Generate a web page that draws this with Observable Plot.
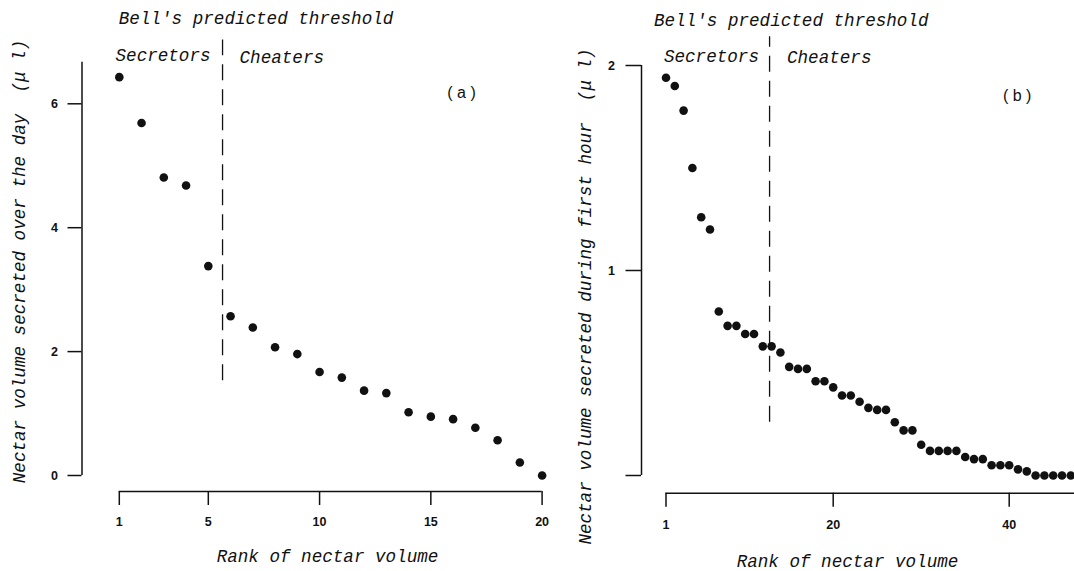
<!DOCTYPE html>
<html>
<head>
<meta charset="utf-8">
<script src="https://cdn.jsdelivr.net/npm/d3@7"></script>
<script src="https://cdn.jsdelivr.net/npm/@observablehq/plot@0.6"></script>
<style>
  html, body { margin: 0; padding: 0; background: #fff; }
  #figure { position: relative; width: 1074px; height: 571px; overflow: hidden; background: #fff; }
  #figure > svg { position: absolute; top: 0; max-width: none; }
  #figure text { white-space: pre; }
  #figure g[aria-label$="tick label"] text {
    font-weight: 700;
    font-size: 12.5px;
    font-family: 'Liberation Sans', Arial, Helvetica, sans-serif;
  }
</style>
</head>
<body>
<div id="figure"></div>
<script>
// (a) nectar volume secreted over the day (µl), plants ranked by volume
const dayVolume = [6.43, 5.69, 4.81, 4.68, 3.38, 2.57, 2.39, 2.07, 1.96, 1.67,
                   1.58, 1.37, 1.33, 1.02, 0.95, 0.91, 0.77, 0.57, 0.21, 0.00];

// (b) nectar volume secreted during the first hour (µl), plants ranked by volume
const hourVolume = [1.94, 1.90, 1.78, 1.50, 1.26, 1.20, 0.80, 0.73, 0.73, 0.69,
                    0.69, 0.63, 0.63, 0.60, 0.53, 0.52, 0.52, 0.46, 0.46, 0.43,
                    0.39, 0.39, 0.36, 0.33, 0.32, 0.32, 0.26, 0.22, 0.22, 0.15,
                    0.12, 0.12, 0.12, 0.12, 0.09, 0.08, 0.08, 0.05, 0.05, 0.05,
                    0.03, 0.02, 0.00, 0.00, 0.00, 0.00, 0.00];

// Bell's predicted threshold, on the rank axis
const thresholdA = 5.64;
const thresholdB = 12.77;

// tick values
const xTicksA = [1, 5, 10, 15, 20];
const yTicksA = [0, 2, 4, 6];
const xTicksB = [1, 20, 40];
const yTicksB = [0, 1, 2];          // the 0 tick carries no label
const unlabelledB = [0];

// texts
const xTitle = "Rank of nectar volume";
const yTitleA = "Nectar volume secreted over the day  (μ l)";
const yTitleB = "Nectar volume secreted during first hour  (μ l)";
const thresholdTitle = "Bell's predicted threshold";
const leftGroup = "Secretors";
const rightGroup = "Cheaters";
const tagA = "( a )";
const tagB = "( b )";

const ink = "#111";
const H = 571;
const monoFont = "'Liberation Mono', 'Courier New', 'DejaVu Sans Mono', monospace";
const sansFont = "'Liberation Sans', Arial, Helvetica, sans-serif";

function panel(cfg) {
  const rows = cfg.values.map((v, i) => ({rank: i + 1, volume: v}));
  const mono = {fontFamily: monoFont, fontStyle: "italic", fontSize: 17.6, fill: ink, lineAnchor: "middle"};
  const mTop = cfg.axisTop, mLeft = cfg.axisLeft;
  return Plot.plot({
    width: cfg.width,
    height: H,
    marginLeft: mLeft,
    marginTop: mTop,
    marginRight: 0,
    marginBottom: H - cfg.axisBottom,
    x: {type: "linear", domain: cfg.xDomain, range: cfg.xRange, axis: null},
    y: {type: "linear", domain: cfg.yDomain, range: cfg.yRange, axis: null},
    style: {background: "transparent", color: ink, fontFamily: monoFont},
    marks: [
      // detached axis lines
      Plot.ruleX([cfg.xDomain[0]], {y1: cfg.yDomain[0], y2: cfg.yAxisTop, dx: mLeft - cfg.xRange[0], stroke: ink, strokeWidth: 1.5}),
      Plot.ruleY([cfg.yDomain[0]], {x1: cfg.xDomain[0], x2: cfg.xAxisEnd, dy: cfg.axisBottom - cfg.yRange[0], stroke: ink, strokeWidth: 1.5}),
      Plot.axisY(cfg.yTicks, {
        anchor: "left", tickSize: cfg.yTickSize, tickPadding: cfg.yTickPadding, strokeWidth: 1.5,
        tickFormat: d => cfg.unlabelled.includes(d) ? "" : String(d),
        fontSize: 12.5, fontWeight: "bold", fontFamily: sansFont, label: null
      }),
      Plot.axisX(cfg.xTicks, {
        anchor: "bottom", tickSize: 14, tickPadding: cfg.xTickPadding, strokeWidth: 1.5,
        tickFormat: d => String(d),
        fontSize: 12.5, fontWeight: "bold", fontFamily: sansFont, label: null
      }),
      // threshold
      Plot.ruleX([cfg.threshold], {y1: cfg.dash[0], y2: cfg.dash[1], stroke: ink, strokeWidth: 1.3, strokeDasharray: "16,9"}),
      // plants
      Plot.dot(rows, {x: "rank", y: "volume", r: 4.3, fill: ink, stroke: "none"}),
      // annotations around the threshold
      Plot.text([thresholdTitle], {text: d => d, x: cfg.threshold, y: cfg.bell.y, dx: cfg.bell.dx, textAnchor: "middle", ...mono}),
      Plot.text([leftGroup], {text: d => d, x: cfg.threshold, y: cfg.secretors.y, dx: cfg.secretors.dx, textAnchor: "end", ...mono}),
      Plot.text([rightGroup], {text: d => d, x: cfg.threshold, y: cfg.cheaters.y, dx: cfg.cheaters.dx, textAnchor: "start", ...mono}),
      Plot.text([cfg.tag], {text: d => d, x: cfg.tagAt[0], y: cfg.tagAt[1], fontFamily: sansFont, fontSize: 16, fill: ink, textAnchor: "middle", lineAnchor: "middle"}),
      // axis titles
      Plot.text([xTitle], {text: d => d, frameAnchor: "top-left", dx: cfg.xTitleAt[0] - mLeft, dy: cfg.xTitleAt[1] - mTop, textAnchor: "middle", ...mono}),
      Plot.text([cfg.yTitle], {text: d => d, frameAnchor: "top-left", dx: cfg.yTitleAt[0] - mLeft, dy: cfg.yTitleAt[1] - mTop, rotate: -90, textAnchor: "middle", ...mono})
    ]
  });
}

const figure = document.getElementById("figure");

const svgA = panel({
  values: dayVolume, threshold: thresholdA, tag: tagA, yTitle: yTitleA,
  xTicks: xTicksA, yTicks: yTicksA, unlabelled: [],
  width: 560,
  xDomain: [1, 20], xRange: [118.8, 541.6],
  yDomain: [0, 6], yRange: [475, 103.3],
  axisLeft: 81.5, axisTop: 61.7, axisBottom: 491,
  yAxisTop: 6.67, xAxisEnd: 20,
  yTickSize: 14, yTickPadding: 10, xTickPadding: 12,
  dash: [1.53, 7.03],
  bell: {y: 7.38, dx: 33.5},
  secretors: {y: 6.78, dx: -12},
  cheaters: {y: 6.75, dx: 17},
  tagAt: [16.38, 6.17],
  xTitleAt: [327, 556],
  yTitleAt: [19, 261]
});
svgA.style.left = "0px";
figure.appendChild(svgA);

const svgB = panel({
  values: hourVolume, threshold: thresholdB, tag: tagB, yTitle: yTitleB,
  xTicks: xTicksB, yTicks: yTicksB, unlabelled: unlabelledB,
  width: 514,
  xDomain: [1, 40], xRange: [105.5, 448.7],
  yDomain: [0, 2], yRange: [475, 65],
  axisLeft: 81, axisTop: 65, axisBottom: 492.7,
  yAxisTop: 2, xAxisEnd: 48,
  yTickSize: 15.5, yTickPadding: 11, xTickPadding: 12.5,
  dash: [0.26, 2.14],
  bell: {y: 2.22, dx: 21.7},
  secretors: {y: 2.045, dx: -10.6},
  cheaters: {y: 2.04, dx: 17.4},
  tagAt: [40.9, 1.854],
  xTitleAt: [287, 560.5],
  yTitleAt: [25, 296]
});
svgB.style.left = "560px";
figure.appendChild(svgB);
</script>
</body>
</html>
